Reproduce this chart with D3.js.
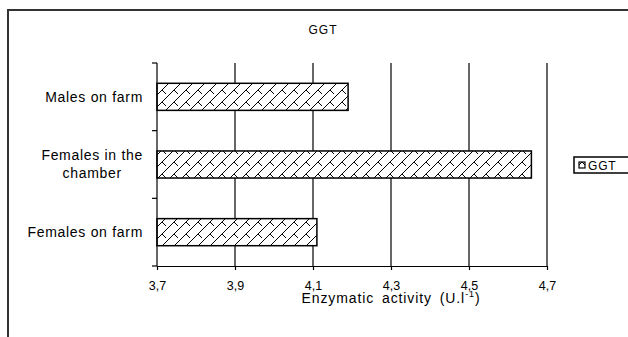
<!DOCTYPE html>
<meta charset="utf-8">
<style>
    body { margin: 0; background: #fff; }
    svg text { font-family: "Liberation Sans", Arial, sans-serif; fill: #000; }
    .grid line { stroke: #000; stroke-width: 1.2; }
    .axis path, .axis line { stroke: #000; stroke-width: 1.2; }
</style>
<svg width="628" height="337"></svg>
<script src="https://cdn.jsdelivr.net/npm/d3@7/dist/d3.min.js"></script>
<script>

    // data
    var categories = ["Males on farm", "Females in the chamber", "Females on farm"];
    var labelLines = [["Males on farm"], ["Females in the", "chamber"], ["Females on farm"]];
    var ggtValues = [4.19, 4.66, 4.11];
    var tickValues = [3.7, 3.9, 4.1, 4.3, 4.5, 4.7];
    var seriesName = "GGT";

    var svg = d3.select("svg");

    // plot area (window.top is reserved, so no "top" here)
    var plotLeft = 157, plotRight = 547, plotTop = 63, plotBottom = 266;

    var x = d3.scaleLinear().domain([3.7, 4.7]).range([plotLeft, plotRight]);
    var y = d3.scaleBand().domain(categories).range([plotTop, plotBottom])
        .paddingInner(0.6).paddingOuter(0.3);

    // brick-like diagonal hatch: "/" lines with short "\" ticks
    var defs = svg.append("defs");
    var pat = defs.append("pattern")
        .attr("id", "brick")
        .attr("patternUnits", "userSpaceOnUse")
        .attr("width", 12).attr("height", 12);
    pat.append("rect").attr("width", 12).attr("height", 12).attr("fill", "#fff");
    pat.append("path")
        .attr("d", "M-1,13 L13,-1 M-1,1 L1,-1 M11,13 L13,11 M6,6 L10,10")
        .attr("stroke", "#000").attr("stroke-width", 1).attr("fill", "none");

    // outer frame
    svg.append("rect")
        .attr("x", 8).attr("y", 10)
        .attr("width", 700).attr("height", 400)
        .attr("fill", "none").attr("stroke", "#333").attr("stroke-width", 2);

    // title
    svg.append("text")
        .attr("x", 323).attr("y", 34)
        .attr("text-anchor", "middle")
        .style("font-size", "12px")
        .style("letter-spacing", "1px")
        .text(seriesName);

    // vertical gridlines
    svg.append("g").attr("class", "grid")
        .selectAll("line")
        .data(tickValues.slice(1))
        .enter().append("line")
        .attr("x1", function(d) { return x(d); })
        .attr("x2", function(d) { return x(d); })
        .attr("y1", plotTop).attr("y2", plotBottom);

    // bars
    svg.append("g")
        .selectAll("rect")
        .data(categories)
        .enter().append("rect")
        .attr("x", x(3.7))
        .attr("y", function(d) { return y(d); })
        .attr("width", function(d, i) { return x(ggtValues[i]) - x(3.7); })
        .attr("height", y.bandwidth())
        .attr("fill", "url(#brick)")
        .attr("stroke", "#000").attr("stroke-width", 1.5);

    // x axis
    var xAxis = svg.append("g").attr("class", "axis")
        .attr("transform", "translate(0," + plotBottom + ")")
        .call(d3.axisBottom(x)
            .tickValues(tickValues)
            .tickSizeInner(4).tickSizeOuter(0)
            .tickPadding(11)
            .tickFormat(function(d) { return d3.format(".1f")(d).replace(".", ","); }));
    xAxis.selectAll("text").style("font-size", "12.5px").attr("fill", "#000");

    // y axis with ticks at category boundaries
    var yAxis = svg.append("g").attr("class", "axis");
    yAxis.append("line")
        .attr("x1", plotLeft).attr("x2", plotLeft).attr("y1", plotTop).attr("y2", plotBottom);
    var step = y.step();
    var bounds = categories.map(function(c) { return y(c) - step * 0.3; }).concat([plotBottom]);
    yAxis.selectAll("line.tk")
        .data(bounds)
        .enter().append("line").attr("class", "tk")
        .attr("x1", plotLeft - 5).attr("x2", plotLeft)
        .attr("y1", function(d) { return d; })
        .attr("y2", function(d) { return d; });

    // category labels
    var labelG = svg.append("g")
        .style("font-size", "14px")
        .style("letter-spacing", "0.7px");
    categories.forEach(function(c, i) {
        var lines = labelLines[i];
        var cy = y(c) + y.bandwidth() / 2;
        var t = labelG.append("text")
            .attr("text-anchor", lines.length > 1 ? "middle" : "end");
        var first = cy - (lines.length - 1) * 9;
        lines.forEach(function(l, j) {
            t.append("tspan").attr("x", 0).attr("y", first + j * 18).attr("dy", "0.35em").text(l);
        });
        if (lines.length > 1) {
            var w = t.node().getBBox().width;
            t.selectAll("tspan").attr("x", 143 - w / 2);
        } else {
            t.selectAll("tspan").attr("x", 143);
        }
    });

    // axis title
    var xt = svg.append("text")
        .attr("x", 391).attr("y", 303)
        .attr("text-anchor", "middle")
        .style("font-size", "14px")
        .style("letter-spacing", "0.9px")
        .style("word-spacing", "3px");
    xt.append("tspan").text("Enzymatic activity (U.l");
    xt.append("tspan").attr("dy", -6).style("font-size", "9px").text("-1");
    xt.append("tspan").attr("dy", 6).text(")");

    // legend
    var lg = svg.append("g");
    lg.append("rect")
        .attr("x", 574).attr("y", 157).attr("width", 80).attr("height", 16)
        .attr("fill", "#fff").attr("stroke", "#000").attr("stroke-width", 1.5);
    lg.append("rect")
        .attr("x", 579).attr("y", 162).attr("width", 6).attr("height", 6)
        .attr("fill", "url(#brick)").attr("stroke", "#000").attr("stroke-width", 1.2);
    lg.append("text")
        .attr("x", 588).attr("y", 169.5)
        .style("font-size", "12px")
        .style("letter-spacing", "0.8px")
        .text(seriesName);

</script>
